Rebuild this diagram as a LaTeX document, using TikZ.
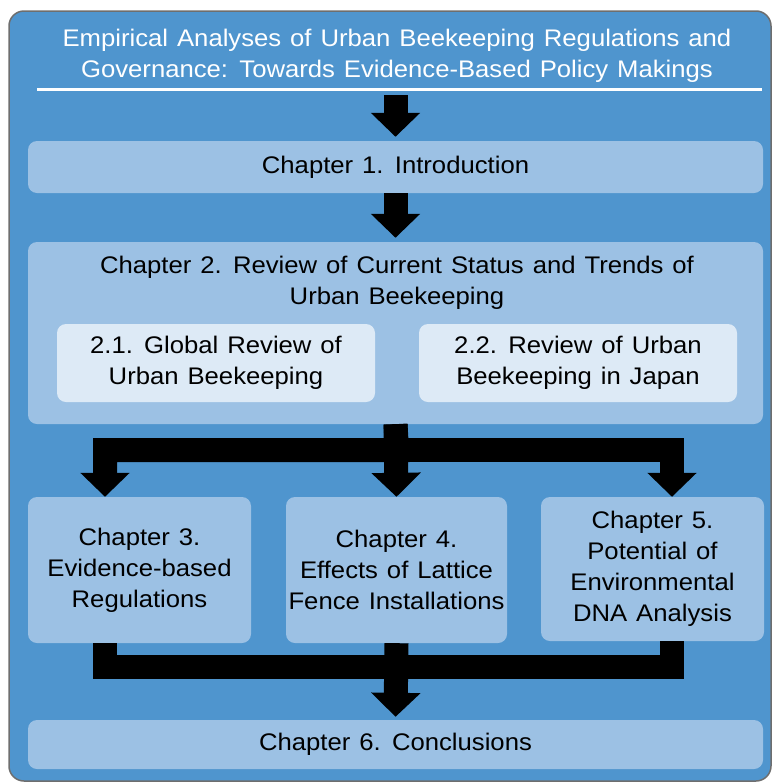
\documentclass[tikz,border=0pt]{standalone}
\usepackage{fontspec}
\setmainfont{Liberation Sans}[FakeStretch=1.07,WordSpace=1.25]
\usetikzlibrary{arrows.meta}

\definecolor{frameblue}{RGB}{79,149,206}
\definecolor{boxblue}{RGB}{156,193,228}
\definecolor{subblue}{RGB}{221,234,246}
\definecolor{framegray}{RGB}{110,110,110}

\begin{document}
\begin{tikzpicture}[x=1pt,y=-1pt,
	text node/.style={align=center,inner sep=0pt,font=\fontsize{24}{31}\selectfont},
	chapter node/.style={text node,rectangle,rounded corners=9pt,fill=boxblue},
	section node/.style={chapter node,fill=subblue},
	block line/.style={draw=black,line width=24pt},
	block arrow/.style={block line,-{Triangle[length=24pt,width=48pt]}}
]

	\useasboundingbox (0,0) rectangle (772,782);

	\def \w {735pt};

	\filldraw[fill=frameblue,draw=framegray,line width=1.5pt,rounded corners=15pt] (9,11) rectangle (771,781);

	\node[text node,text=white] (title) at (397,56) {Empirical Analyses of Urban Beekeeping Regulations and\\Governance: Towards Evidence-Based Policy Makings};
	\draw[white,line width=3pt] (37,89) -- (762,89);

	\node[chapter node,minimum width=\w,minimum height=52pt] (ch1) at (395.5,167) {Chapter 1. Introduction};

	\node[chapter node,minimum width=\w,minimum height=182pt] (ch2) at (395.5,333) {};
	\node[text node] (ch2 title) at (397,283) {Chapter 2. Review of Current Status and Trends of\\Urban Beekeeping};
	\node[section node,minimum width=318pt,minimum height=78pt] (sec21) at (216,363) {2.1. Global Review of\\Urban Beekeeping};
	\node[section node,minimum width=318pt,minimum height=78pt] (sec22) at (578,363) {2.2. Review of Urban\\Beekeeping in Japan};

	\node[chapter node,minimum width=223pt,minimum height=146pt] (ch3) at (139.5,570) {Chapter 3.\\Evidence-based\\Regulations};
	\node[chapter node,minimum width=221pt,minimum height=146pt] (ch4) at (396.5,570) {Chapter 4.\\Effects of Lattice\\Fence Installations};
	\node[chapter node,minimum width=223pt,minimum height=144pt] (ch5) at (652.5,569) {Chapter 5.\\Potential of\\Environmental\\DNA Analysis};

	\node[chapter node,minimum width=\w,minimum height=49pt] (ch6) at (395.5,744.5) {Chapter 6. Conclusions};

	\coordinate (start) at (395.5,95);
	\coordinate (fork) at (397,450);
	\coordinate (fork left) at (105,450);
	\coordinate (fork right) at (672,450);
	\coordinate (join) at (397,667);
	\coordinate (join left) at (105,667);
	\coordinate (join right) at (672,667);

	\draw[block arrow,shorten >=4pt] (start) -- (ch1.north);
	\draw[block arrow,shorten >=4pt] (ch1.south) -- (ch2.north);

	\draw[block arrow] (ch2.south) -- (fork) -- (fork left) -- (fork left |- ch3.north);
	\draw[block arrow] (fork) -- (fork right) -- (fork right |- ch5.north);
	\draw[block arrow] (ch2.south) -- (ch4.north);

	\draw[block line] (join left |- ch3.south) -- (join left) -- (join right) -- (join right |- ch5.south);
	\draw[block arrow,shorten >=3pt] (ch4.south) -- (ch6.north);
\end{tikzpicture}
\end{document}
